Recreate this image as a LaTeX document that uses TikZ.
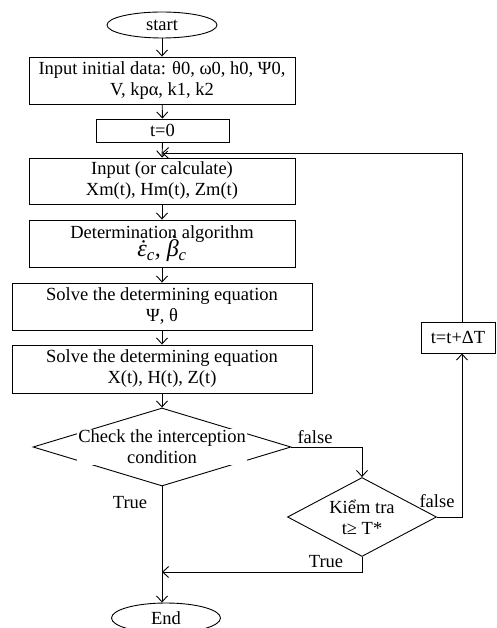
\documentclass[tikz,border=0pt]{standalone}
\usepackage{amsmath,amssymb}
\usepackage{fontspec}
\setmainfont{Liberation Serif}
\usepackage{tikz}
\usetikzlibrary{arrows.meta,shapes.geometric}
\newcommand{\dotacc}[2]{\ooalign{#1\cr\hidewidth\raisebox{#2}{\char"02D9}\hidewidth\cr}}

\begin{document}
\begin{tikzpicture}[x=1pt, y=-1pt, line width=0.9pt,
  font=\fontsize{18.5}{21}\selectfont,
  flow/.style={-{Straight Barb[length=6pt,width=11pt]}},
  terminal/.style={draw, ellipse, inner sep=0pt},
  process/.style={draw, rectangle, inner sep=0pt, align=center},
  decision/.style={draw, diamond, inner sep=0pt},
  dtext/.style={fill=white, inner sep=1pt, align=center},
  tag/.style={inner sep=0pt}]
  \useasboundingbox (0,0) rectangle (496,628);
  \node[terminal, minimum width=110, minimum height=26] (start) at (162,25) {start};
  \node[process, minimum width=266, minimum height=47] (input) at (162,80.5) {Input initial data: θ0, ω0, h0, Ψ0,\\V, kpα, k1, k2};
  \node[process, minimum width=133, minimum height=23] (t0) at (162.5,130.5) {t=0};
  \node[process, minimum width=266, minimum height=46] (calc) at (162,181) {Input (or calculate)\\Xm(t), Hm(t), Zm(t)};
  \node[process, minimum width=266, minimum height=47] (algo) at (162,243.5) {Determination algorithm\\[-3pt]{\fontsize{24}{22}\selectfont\itshape \dotacc{ε}{0pt}\textsubscript{c}, \dotacc{β}{0.22em}\textsubscript{c}}};
  \node[process, minimum width=300, minimum height=47] (solve1) at (162,306.5) {Solve the determining equation\\Ψ, θ};
  \node[process, minimum width=300, minimum height=48] (solve2) at (162,369) {Solve the determining equation\\X(t), H(t), Z(t)};
  \node[decision, minimum width=258, minimum height=78] (chk) at (162,447) {};
  \node[dtext] (chktxt) at (chk) {Check the interception\\condition};
  \node[decision, minimum width=149, minimum height=79] (kiem) at (362,517) {};
  \node[align=center, inner sep=0pt] (kiemtxt) at (kiem) {Kiểm tra\\t≥ T*};
  \node[process, minimum width=74, minimum height=31] (tdt) at (458,337.5) {t=t+ΔT};
  \node[terminal, minimum width=109, minimum height=30] (end) at (166,618) {End};
  \coordinate (join) at (162,153);
  \coordinate (rx) at (462,0);
  \coordinate (back) at (162,572);

  \draw[flow] (start) -- (input);
  \draw[flow] (input) -- (t0);
  \draw[flow] (t0.south) -- (calc.north);
  \draw[flow] (calc) -- (algo);
  \draw[flow] (algo) -- (solve1);
  \draw[flow] (solve1) -- (solve2);
  \draw[flow] (solve2) -- (chk);
  \draw[flow] (chk.east) -| (kiem.north);
  \draw[flow] (kiem.east) -| (tdt.south -| rx);
  \draw[flow] (tdt.north -| rx) |- (join);
  \draw[flow] (chk.south) -- (chk.south |- end.north);
  \draw[flow] (kiem.south) |- (back);

  \node[tag] (lf1) at (315,437) {false};
  \node[tag] (lf2) at (437,501) {false};
  \node[tag] (lt1) at (130,503) {True};
  \node[tag] (lt2) at (326,562) {True};
\end{tikzpicture}
\end{document}
